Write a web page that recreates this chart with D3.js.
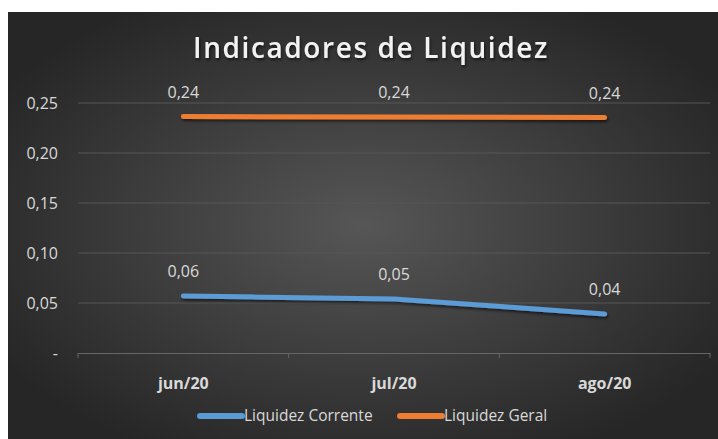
<!DOCTYPE html>
<html>
<head>
<meta charset="utf-8">
<script src="https://cdn.jsdelivr.net/npm/d3@7"></script>
<style>
  body { margin: 0; background: #fff; }
  svg { display: block; }
</style>
</head>
<body>
<div class="container"></div>
<script>
const categories = ['jun/20', 'jul/20', 'ago/20'];
const liquidezCorrente = [0.057, 0.054, 0.039];
const liquidezGeral = [0.2365, 0.236, 0.2355];
const yTicks = [0, 0.05, 0.10, 0.15, 0.20, 0.25];
const seriesNames = ['Liquidez Corrente', 'Liquidez Geral'];
const seriesColors = ['#5b9bd5', '#ed7d31'];

const w = 718;
const h = 439;
const font = '"Open Sans", Lato, sans-serif';

const margin = { top: 103, right: 8, bottom: 86, left: 78 };

const svg = d3.select('.container')
    .append('svg')
    .attr('width', w)
    .attr('height', h);

const defs = svg.append('defs');
const grad = defs.append('radialGradient')
    .attr('id', 'bg')
    .attr('cx', '50%').attr('cy', '50%').attr('r', '60%');
grad.append('stop').attr('offset', '0%').attr('stop-color', '#565656');
grad.append('stop').attr('offset', '100%').attr('stop-color', '#262626');

// user space so flat horizontal lines aren't clipped
const shadow = defs.append('filter').attr('id', 'shadow')
    .attr('filterUnits', 'userSpaceOnUse')
    .attr('x', 0).attr('y', 0).attr('width', w).attr('height', h);
shadow.append('feDropShadow')
    .attr('dx', 1).attr('dy', 2).attr('stdDeviation', 1.5)
    .attr('flood-color', '#000').attr('flood-opacity', 0.6);

// background
svg.append('rect')
    .attr('x', 8).attr('y', 12)
    .attr('width', w - 8).attr('height', h - 12)
    .attr('fill', 'url(#bg)');

// title
svg.append('text')
    .attr('x', 371)
    .attr('y', 58)
    .attr('text-anchor', 'middle')
    .attr('fill', '#f2f2f2')
    .attr('filter', 'url(#shadow)')
    .style('font-family', font)
    .style('font-size', '28px')
    .style('font-weight', '600')
    .style('letter-spacing', '1.6px')
    .text('Indicadores de Liquidez');

const x = d3.scaleBand()
    .domain(categories)
    .range([margin.left, w - margin.right]);

const y = d3.scaleLinear()
    .domain([0, 0.25])
    .range([353, 103]);

const fmt = v => v === 0 ? '-' : d3.format('.2f')(v).replace('.', ',');

// gridlines
svg.append('g')
    .selectAll('line')
    .data(yTicks.filter(d => d > 0))
    .join('line')
    .attr('x1', x.range()[0])
    .attr('x2', x.range()[1])
    .attr('y1', d => y(d))
    .attr('y2', d => y(d))
    .attr('stroke', '#575757')
    .attr('stroke-width', 1);

// y labels
svg.append('g')
    .selectAll('text')
    .data(yTicks)
    .join('text')
    .attr('x', 58)
    .attr('y', d => y(d))
    .attr('dy', '0.35em')
    .attr('text-anchor', 'end')
    .attr('fill', '#d9d9d9')
    .style('font-family', font)
    .style('font-size', '16px')
    .text(fmt);

// x axis
const xAxis = svg.append('g')
    .attr('transform', `translate(0,${y(0)})`)
    .call(d3.axisBottom(x).tickSize(0).tickFormat(''));
xAxis.select('.domain').attr('stroke', '#666666');
xAxis.selectAll('.tickline')
    .data(categories.concat(['end']))
    .join('line')
    .attr('class', 'tickline')
    .attr('x1', (d, i) => x.range()[0] + i * x.bandwidth())
    .attr('x2', (d, i) => x.range()[0] + i * x.bandwidth())
    .attr('y1', 0).attr('y2', 5)
    .attr('stroke', '#666666');

svg.append('g')
    .selectAll('text')
    .data(categories)
    .join('text')
    .attr('x', d => x(d) + x.bandwidth() / 2)
    .attr('y', 383)
    .attr('dy', '0.35em')
    .attr('text-anchor', 'middle')
    .attr('fill', '#d9d9d9')
    .style('font-family', font)
    .style('font-size', '16px')
    .style('font-weight', 'bold')
    .text(d => d);

// lines
const series = [liquidezCorrente, liquidezGeral];
const line = d3.line()
    .x((d, i) => x(categories[i]) + x.bandwidth() / 2)
    .y(d => y(d));

series.forEach((values, si) => {
    svg.append('path')
        .datum(values)
        .attr('fill', 'none')
        .attr('stroke', seriesColors[si])
        .attr('stroke-width', 5)
        .attr('stroke-linecap', 'round')
        .attr('stroke-linejoin', 'round')
        .attr('filter', 'url(#shadow)')
        .attr('d', line);

    svg.append('g')
        .selectAll('text')
        .data(values)
        .join('text')
        .attr('x', (d, i) => x(categories[i]) + x.bandwidth() / 2)
        .attr('y', d => y(d) - 19)
        .attr('text-anchor', 'middle')
        .attr('fill', '#d9d9d9')
        .style('font-family', font)
        .style('font-size', '16px')
        .text(d => d3.format('.2f')(d).replace('.', ','));
});

// legend
const legendItems = [
    { name: seriesNames[0], color: seriesColors[0], x: 200 },
    { name: seriesNames[1], color: seriesColors[1], x: 400 }
];
const legend = svg.append('g');
legendItems.forEach(item => {
    legend.append('line')
        .attr('x1', item.x).attr('x2', item.x + 42)
        .attr('y1', 416).attr('y2', 416)
        .attr('stroke', item.color)
        .attr('stroke-width', 6)
        .attr('stroke-linecap', 'round');
    legend.append('text')
        .attr('x', item.x + 44)
        .attr('y', 416)
        .attr('dy', '0.35em')
        .attr('fill', '#d9d9d9')
        .style('font-family', font)
        .style('font-size', '15.5px')
        .text(item.name);
});
</script>
</body>
</html>
